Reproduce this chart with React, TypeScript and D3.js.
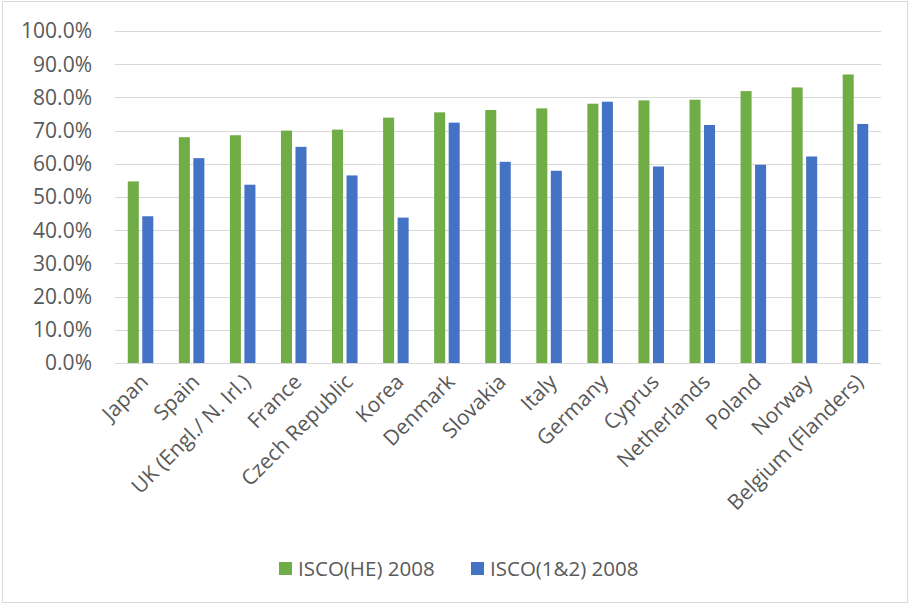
import React from "react";
import * as d3 from "d3";

const categories = [
  "Japan", "Spain", "UK (Engl./ N. Irl.)", "France", "Czech Republic", "Korea",
  "Denmark", "Slovakia", "Italy", "Germany", "Cyprus", "Netherlands", "Poland",
  "Norway", "Belgium (Flanders)",
];
const seriesNames = ["ISCO(HE) 2008", "ISCO(1&2) 2008"];
const iscoHE = [54.7, 68.0, 68.6, 70.0, 70.3, 73.9, 75.5, 76.2, 76.7, 78.1, 79.1, 79.3, 81.9, 83.0, 86.9];
const isco12 = [44.2, 61.7, 53.7, 65.1, 56.5, 43.8, 72.4, 60.6, 57.9, 78.7, 59.2, 71.7, 59.7, 62.2, 72.0];
const yTicks = [0, 10, 20, 30, 40, 50, 60, 70, 80, 90, 100];
const colors = ["#70AD47", "#4472C4"];

const W = 911;
const H = 605;
const FONT = "'Open Sans', 'Liberation Sans', sans-serif";
const TEXT = "#595959";

export default function App() {
  const left = 115, right = 881, top = 31, bottom = 363;
  const x0 = d3.scaleBand<string>().domain(categories).range([left, right]).paddingInner(0.5).paddingOuter(0.25);
  const x1 = d3.scaleBand<number>().domain([0, 1]).range([0, x0.bandwidth()]).paddingInner(0.24);
  const y = d3.scaleLinear().domain([0, 100]).range([bottom, top]);
  const series = [iscoHE, isco12];

  return (
    <div style={{ position: "fixed", left: 0, top: 0 }}>
      <svg width={W} height={H} style={{ display: "block", background: "#fff" }}>
        <rect x={2.5} y={1.5} width={905} height={601} fill="#fff" stroke="#D9D9D9" strokeWidth={1} />
        {yTicks.map((t) => (
          <g key={t}>
            <line x1={left} x2={right} y1={Math.round(y(t)) + 0.5} y2={Math.round(y(t)) + 0.5} stroke="#D9D9D9" strokeWidth={1.2} />
            <text x={92} y={y(t)} dy="0.35em" textAnchor="end" fontFamily={FONT} fontSize={21} fill={TEXT}>
              {t.toFixed(1) + "%"}
            </text>
          </g>
        ))}
        {series.map((vals, si) =>
          vals.map((v, i) => (
            <rect
              key={si + "-" + i}
              x={(x0(categories[i]) as number) + (x1(si) as number)}
              y={y(v)}
              width={x1.bandwidth()}
              height={y(0) - y(v)}
              fill={colors[si]}
            />
          ))
        )}
        {categories.map((c) => {
          const cx = (x0(c) as number) + x0.bandwidth() / 2 + 4;
          const cy = bottom + 15;
          return (
            <text
              key={c}
              transform={`translate(${cx},${cy}) rotate(-45)`}
              textAnchor="end"
              dy="0.35em"
              fontFamily={FONT}
              fontSize={21}
              fill={TEXT}
            >
              {c}
            </text>
          );
        })}
        {seriesNames.map((s, si) => {
          const lx = si === 0 ? 279 : 471;
          return (
            <g key={s}>
              <rect x={lx} y={562} width={13} height={13} fill={colors[si]} />
              <text x={lx + 19} y={568.5} dy="0.35em" fontFamily={FONT} fontSize={20.5} fill={TEXT}>
                {s}
              </text>
            </g>
          );
        })}
      </svg>
    </div>
  );
}
